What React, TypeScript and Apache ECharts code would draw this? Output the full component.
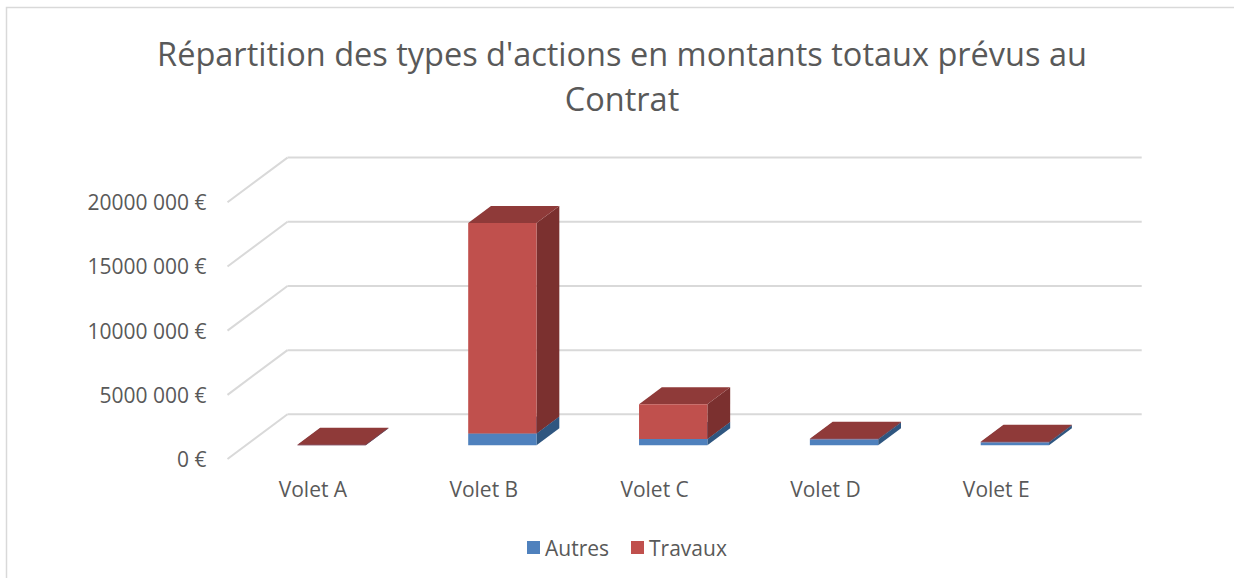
import React, { useEffect, useRef } from "react";
import * as echarts from "echarts";

const categories = ["Volet A", "Volet B", "Volet C", "Volet D", "Volet E"];
const autres = [0, 910000, 470000, 450000, 230000];
const travaux = [30000, 16390000, 2720000, 40000, 30000];
const yTickValues = [0, 5000000, 10000000, 15000000, 20000000];
const yTickLabels = ["0 €", "5000 000 €", "10000 000 €", "15000 000 €", "20000 000 €"];
const titleText = "Répartition des types d'actions en montants totaux prévus au\nContrat";

// 3D projection constants (pixels for the full floor depth)
const DX = 60;
const DY = 44.7;
const D0 = 0.31;
const D1 = 0.69;
const BAR_FRAC = 0.4;
const FONT = "'Open Sans', 'Noto Sans', sans-serif";
const TEXT_COLOR = "#595959";

function boxRender(front: string, side: string, top: string) {
  return (params: any, api: any) => {
    const cat = api.value(0);
    const base = api.value(1);
    const topV = api.value(2);
    const pBase = api.coord([cat, base]);
    const pTop = api.coord([cat, topV]);
    const band = api.size([1, 0])[0];
    const w = band * BAR_FRAC;
    const ox = D0 * DX;
    const oy = -D0 * DY;
    const dx = (D1 - D0) * DX;
    const dy = -(D1 - D0) * DY;
    const x0 = pBase[0] - w / 2 + ox;
    const x1 = x0 + w;
    const yb = pBase[1] + oy;
    const yt = pTop[1] + oy;
    return {
      type: "group",
      children: [
        {
          type: "polygon",
          shape: { points: [[x1, yb], [x1 + dx, yb + dy], [x1 + dx, yt + dy], [x1, yt]] },
          style: { fill: side },
        },
        {
          type: "polygon",
          shape: { points: [[x0, yt], [x1, yt], [x1 + dx, yt + dy], [x0 + dx, yt + dy]] },
          style: { fill: top },
        },
        {
          type: "rect",
          shape: { x: x0, y: yt, width: w, height: Math.max(0, yb - yt) },
          style: { fill: front },
        },
      ],
    };
  };
}

function gridRender(params: any, api: any) {
  const cs = params.coordSys;
  const v = api.value(1);
  const y = api.coord([0, v])[1];
  const style = { stroke: "#D9D9D9", lineWidth: 2 };
  return {
    type: "group",
    children: [
      { type: "line", shape: { x1: cs.x, y1: y, x2: cs.x + DX, y2: y - DY }, style },
      { type: "line", shape: { x1: cs.x + DX, y1: y - DY, x2: cs.x + cs.width + DX, y2: y - DY }, style },
    ],
  };
}

export default function App() {
  const ref = useRef<HTMLDivElement>(null);
  useEffect(() => {
    if (!ref.current) return;
    const chart = echarts.init(ref.current, null, { renderer: "svg" });
    const autresData = categories.map((_, i) => [i, 0, autres[i]]);
    const travauxData = categories.map((_, i) => [i, autres[i], autres[i] + travaux[i]]);
    chart.setOption({
      animation: false,
      backgroundColor: "#ffffff",
      graphic: [
        {
          type: "rect",
          shape: { x: 6.5, y: 7.5, width: 1400, height: 700 },
          style: { fill: "none", stroke: "#D9D9D9", lineWidth: 1.5 },
          silent: true,
        },
        {
          type: "text",
          x: 622,
          y: 31,
          style: {
            text: titleText,
            textAlign: "center",
            textVerticalAlign: "top",
            fontSize: 32.5,
            lineHeight: 45,
            fontFamily: FONT,
            fill: TEXT_COLOR,
          },
        },
      ],
      legend: {
        data: ["Autres", "Travaux"],
        left: 527,
        top: 537,
        padding: 0,
        icon: "rect",
        itemWidth: 13,
        itemHeight: 13,
        itemGap: 22,
        textStyle: { fontSize: 21, color: TEXT_COLOR, fontFamily: FONT },
      },
      grid: {
        left: 227.5,
        top: 202.3,
        width: 854.2,
        height: 256.7,
        outerBoundsMode: "none",
      },
      xAxis: {
        type: "category",
        data: categories,
        axisLine: { show: false },
        axisTick: { show: false },
        splitLine: { show: false },
        axisLabel: { fontSize: 21, color: TEXT_COLOR, fontFamily: FONT, margin: 19 },
      },
      yAxis: {
        type: "value",
        min: 0,
        max: 20000000,
        interval: 5000000,
        axisLine: { show: false },
        axisTick: { show: false },
        splitLine: { show: false },
        axisLabel: {
          fontSize: 21,
          color: TEXT_COLOR,
          fontFamily: FONT,
          margin: 21,
          formatter: (v: number) => yTickLabels[Math.round(v / 5000000)] ?? "",
        },
      },
      series: [
        {
          type: "custom",
          name: "grid",
          silent: true,
          z: 1,
          renderItem: gridRender,
          encode: { x: 0, y: 1 },
          data: yTickValues.map((v) => [0, v]),
        },
        {
          type: "custom",
          name: "Autres",
          z: 2,
          itemStyle: { color: "#4F81BD" },
          renderItem: boxRender("#4F81BD", "#2F5680", "#3D6797"),
          encode: { x: 0, y: [1, 2] },
          data: autresData,
        },
        {
          type: "custom",
          name: "Travaux",
          z: 3,
          itemStyle: { color: "#C0504D" },
          renderItem: boxRender("#C0504D", "#7B302F", "#8F3A39"),
          encode: { x: 0, y: [1, 2] },
          data: travauxData,
        },
      ],
    });
    return () => chart.dispose();
  }, []);
  return (
    <div
      ref={ref}
      style={{ position: "absolute", left: 0, top: 0, width: 1234, height: 578 }}
    />
  );
}
